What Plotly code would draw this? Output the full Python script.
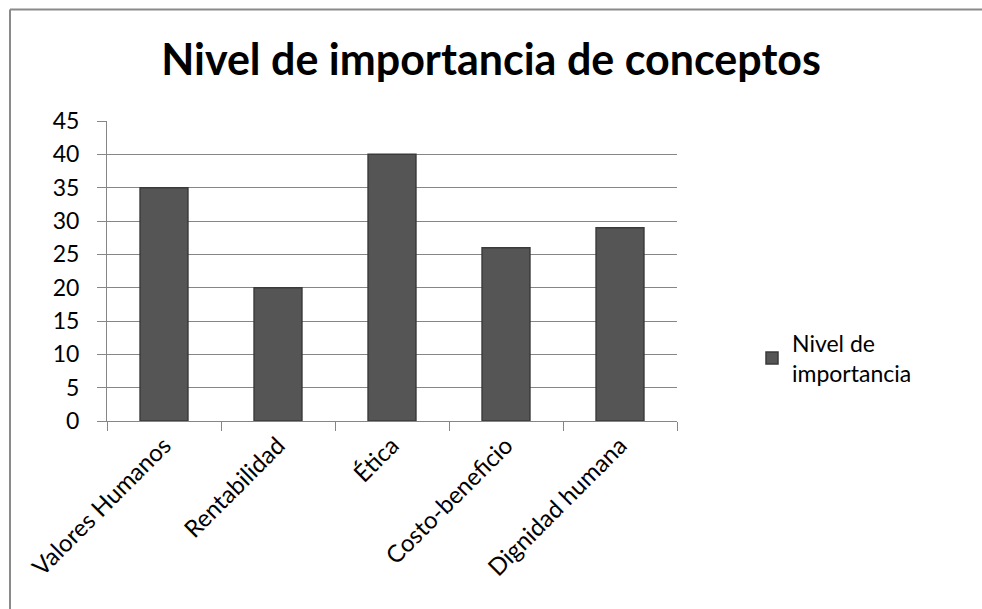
import plotly.graph_objects as go

categories = ["Valores Humanos", "Rentabilidad", "Ética", "Costo-beneficio", "Dignidad humana"]
values = [35, 20, 40, 26, 29]
series_name = "Nivel de<br>importancia"
title_text = "Nivel de importancia de conceptos"
y_ticks = [0, 5, 10, 15, 20, 25, 30, 35, 40, 45]

W, H = 982, 609
L, R, T, B = 107, 305, 121, 188

fig = go.Figure()
fig.add_trace(go.Bar(
    x=categories, y=values, name=series_name,
    marker=dict(color="#555555", line=dict(color="#3a3a3a", width=1.5)),
    width=0.42, showlegend=True,
))

pw = W - L - R
ph = H - T - B

def px_to_paper_x(px):
    return (px - L) / pw

def px_to_paper_y(py):
    return (H - B - py) / ph

fig.update_layout(
    width=W, height=H,
    margin=dict(l=L, r=R, t=T, b=B, pad=0),
    paper_bgcolor="white", plot_bgcolor="white",
    font=dict(family="Lato, Calibri, sans-serif", size=23, color="#000000"),
    title=dict(text="<b>" + title_text + "</b>", x=0.5, xref="container", xanchor="center",
               y=1 - 60 / H, yanchor="middle", font=dict(size=43, family="Lato, Calibri, sans-serif")),
    showlegend=True,
    legend=dict(x=px_to_paper_x(752), y=px_to_paper_y(358), xanchor="left", yanchor="middle",
                font=dict(size=23), bgcolor="rgba(0,0,0,0)", itemwidth=30, tracegroupgap=0),
    bargap=0.58,
)
fig.update_yaxes(
    range=[0, 45], tickvals=y_ticks, showgrid=True, gridcolor="#868686", gridwidth=1,
    showline=True, linecolor="#868686", linewidth=1, ticks="outside", ticklen=9, tickcolor="#868686",
    ticklabelstandoff=13, zeroline=False, fixedrange=True,
)
fig.update_xaxes(
    type="category", tickangle=-45, showline=True, linecolor="#868686", linewidth=1,
    ticks="outside", ticklen=9, tickcolor="#868686", tickson="boundaries",
    showgrid=False, fixedrange=True, tickfont=dict(size=24),
)
# chart-area border (top and left edges visible in the crop)
fig.add_shape(type="line", xref="paper", yref="paper",
              x0=px_to_paper_x(10), x1=px_to_paper_x(982),
              y0=px_to_paper_y(9.5), y1=px_to_paper_y(9.5),
              line=dict(color="#8a8a8a", width=2), layer="below")
fig.add_shape(type="line", xref="paper", yref="paper",
              x0=px_to_paper_x(10), x1=px_to_paper_x(10),
              y0=px_to_paper_y(9.5), y1=px_to_paper_y(609),
              line=dict(color="#8a8a8a", width=2), layer="below")

fig.write_html(
    "out.html",
    config={"displayModeBar": False},
    post_script="document.body.style.margin='0';document.body.style.overflow='hidden';",
)
